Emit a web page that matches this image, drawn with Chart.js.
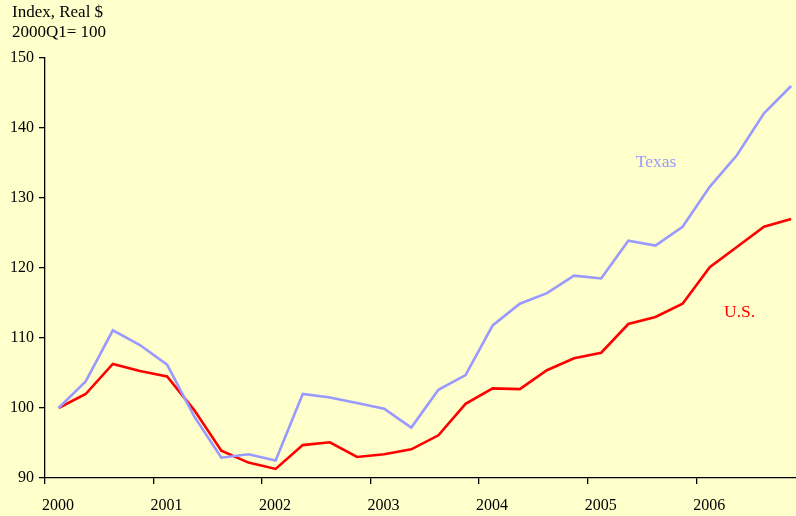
<!DOCTYPE html>
<html>
<head>
<meta charset="utf-8">
<script src="https://cdn.jsdelivr.net/npm/chart.js@4.4.1/dist/chart.umd.min.js"></script>
<style>
  html, body { margin: 0; padding: 0; background: #ffffcc; overflow: hidden; }
  #wrap { position: relative; width: 796px; height: 516px; }
</style>
</head>
<body>
<div id="wrap"><canvas id="chart"></canvas></div>
<script>
// Índice de emprego/renda real, 2000Q1 = 100 — Texas vs. U.S.
const quarters = [
  "2000Q1", "2000Q2", "2000Q3", "2000Q4",
  "2001Q1", "2001Q2", "2001Q3", "2001Q4",
  "2002Q1", "2002Q2", "2002Q3", "2002Q4",
  "2003Q1", "2003Q2", "2003Q3", "2003Q4",
  "2004Q1", "2004Q2", "2004Q3", "2004Q4",
  "2005Q1", "2005Q2", "2005Q3", "2005Q4",
  "2006Q1", "2006Q2", "2006Q3", "2006Q4",
];
const texas = [
  100.0, 103.8, 111.1, 109.0, 106.2, 98.8, 92.9, 93.4,
  92.5, 102.0, 101.5, 100.7, 99.9, 97.2, 102.6, 104.7,
  111.8, 114.9, 116.4, 118.9, 118.5, 123.9, 123.2, 125.9,
  131.6, 136.1, 142.1, 146.0,
];
const us = [
  100.0, 102.0, 106.3, 105.3, 104.5, 99.7, 93.9, 92.2,
  91.3, 94.7, 95.1, 93.0, 93.4, 94.1, 96.1, 100.6,
  102.8, 102.7, 105.4, 107.1, 107.9, 112.0, 113.0, 114.9,
  120.1, 123.0, 125.9, 127.0,
];
const yTicks = [90, 100, 110, 120, 130, 140, 150];
const yearTicks = [2000, 2001, 2002, 2003, 2004, 2005, 2006];
const seriesLabels = [
  { text: "Texas", x: 2005.63, y: 135.1, color: "#9999ff" },
  { text: "U.S.", x: 2006.40, y: 113.7, color: "#ff0000" },
];

const FONT = "'Liberation Serif', 'DejaVu Serif', serif";

// cada trimestre no meio do seu intervalo
function toPoints(values) {
  return values.map((v, i) => {
    const [ano, q] = quarters[i].split("Q");
    return { x: Number(ano) + (Number(q) - 0.5) / 4, y: v };
  });
}

const textPlugin = {
  id: "textos",
  beforeDraw(chart) {
    const ctx = chart.ctx;
    ctx.save();
    ctx.fillStyle = "#ffffcc";
    ctx.fillRect(0, 0, chart.width, chart.height);
    ctx.restore();
  },
  afterDraw(chart) {
    const ctx = chart.ctx;
    const { x, y } = chart.scales;
    ctx.save();
    ctx.font = "17px " + FONT;
    ctx.fillStyle = "#000";
    ctx.textBaseline = "middle";
    ctx.textAlign = "left";
    ctx.fillText("Index, Real $", 12, 13);
    ctx.fillText("2000Q1= 100", 12, 33);
    ctx.textAlign = "center";
    ctx.font = "17.5px " + FONT;
    seriesLabels.forEach((l) => {
      ctx.fillStyle = l.color;
      ctx.fillText(l.text, x.getPixelForValue(l.x), y.getPixelForValue(l.y));
    });
    ctx.restore();
  },
};

new Chart(document.getElementById("chart"), {
  type: "line",
  data: {
    datasets: [
      { label: "Texas", data: toPoints(texas), borderColor: "#9999ff", borderWidth: 2.6, pointRadius: 0, tension: 0 },
      { label: "U.S.", data: toPoints(us), borderColor: "#ff0000", borderWidth: 2.6, pointRadius: 0, tension: 0 },
    ],
  },
  options: {
    responsive: true,
    maintainAspectRatio: false,
    animation: false,
    layout: { padding: { top: 58, left: 0, right: 0, bottom: 0 } },
    plugins: { legend: { display: false }, tooltip: { enabled: false } },
    scales: {
      x: {
        type: "linear",
        min: 2000,
        max: 2006.92,
        afterFit: (s) => { s.height = 38; },
        afterBuildTicks: (s) => { s.ticks = yearTicks.map((v) => ({ value: v })); },
        border: { color: "#000", width: 1.3 },
        grid: { drawOnChartArea: false, color: "#000", tickLength: 6, lineWidth: 1.3 },
        ticks: {
          color: "#000",
          font: { family: FONT, size: 16 },
          padding: 12,
          labelOffset: 13,
          maxRotation: 0,
          callback: (v) => String(v),
        },
      },
      y: {
        min: 90,
        max: 150,
        afterFit: (s) => { s.width = 45; },
        afterBuildTicks: (s) => { s.ticks = yTicks.map((v) => ({ value: v })); },
        border: { color: "#000", width: 1.3 },
        grid: { drawOnChartArea: false, color: "#000", tickLength: 6, lineWidth: 1.3 },
        ticks: {
          color: "#000",
          font: { family: FONT, size: 16 },
          padding: 5,
          callback: (v) => String(v),
        },
      },
    },
  },
  plugins: [textPlugin],
});
</script>
</body>
</html>
